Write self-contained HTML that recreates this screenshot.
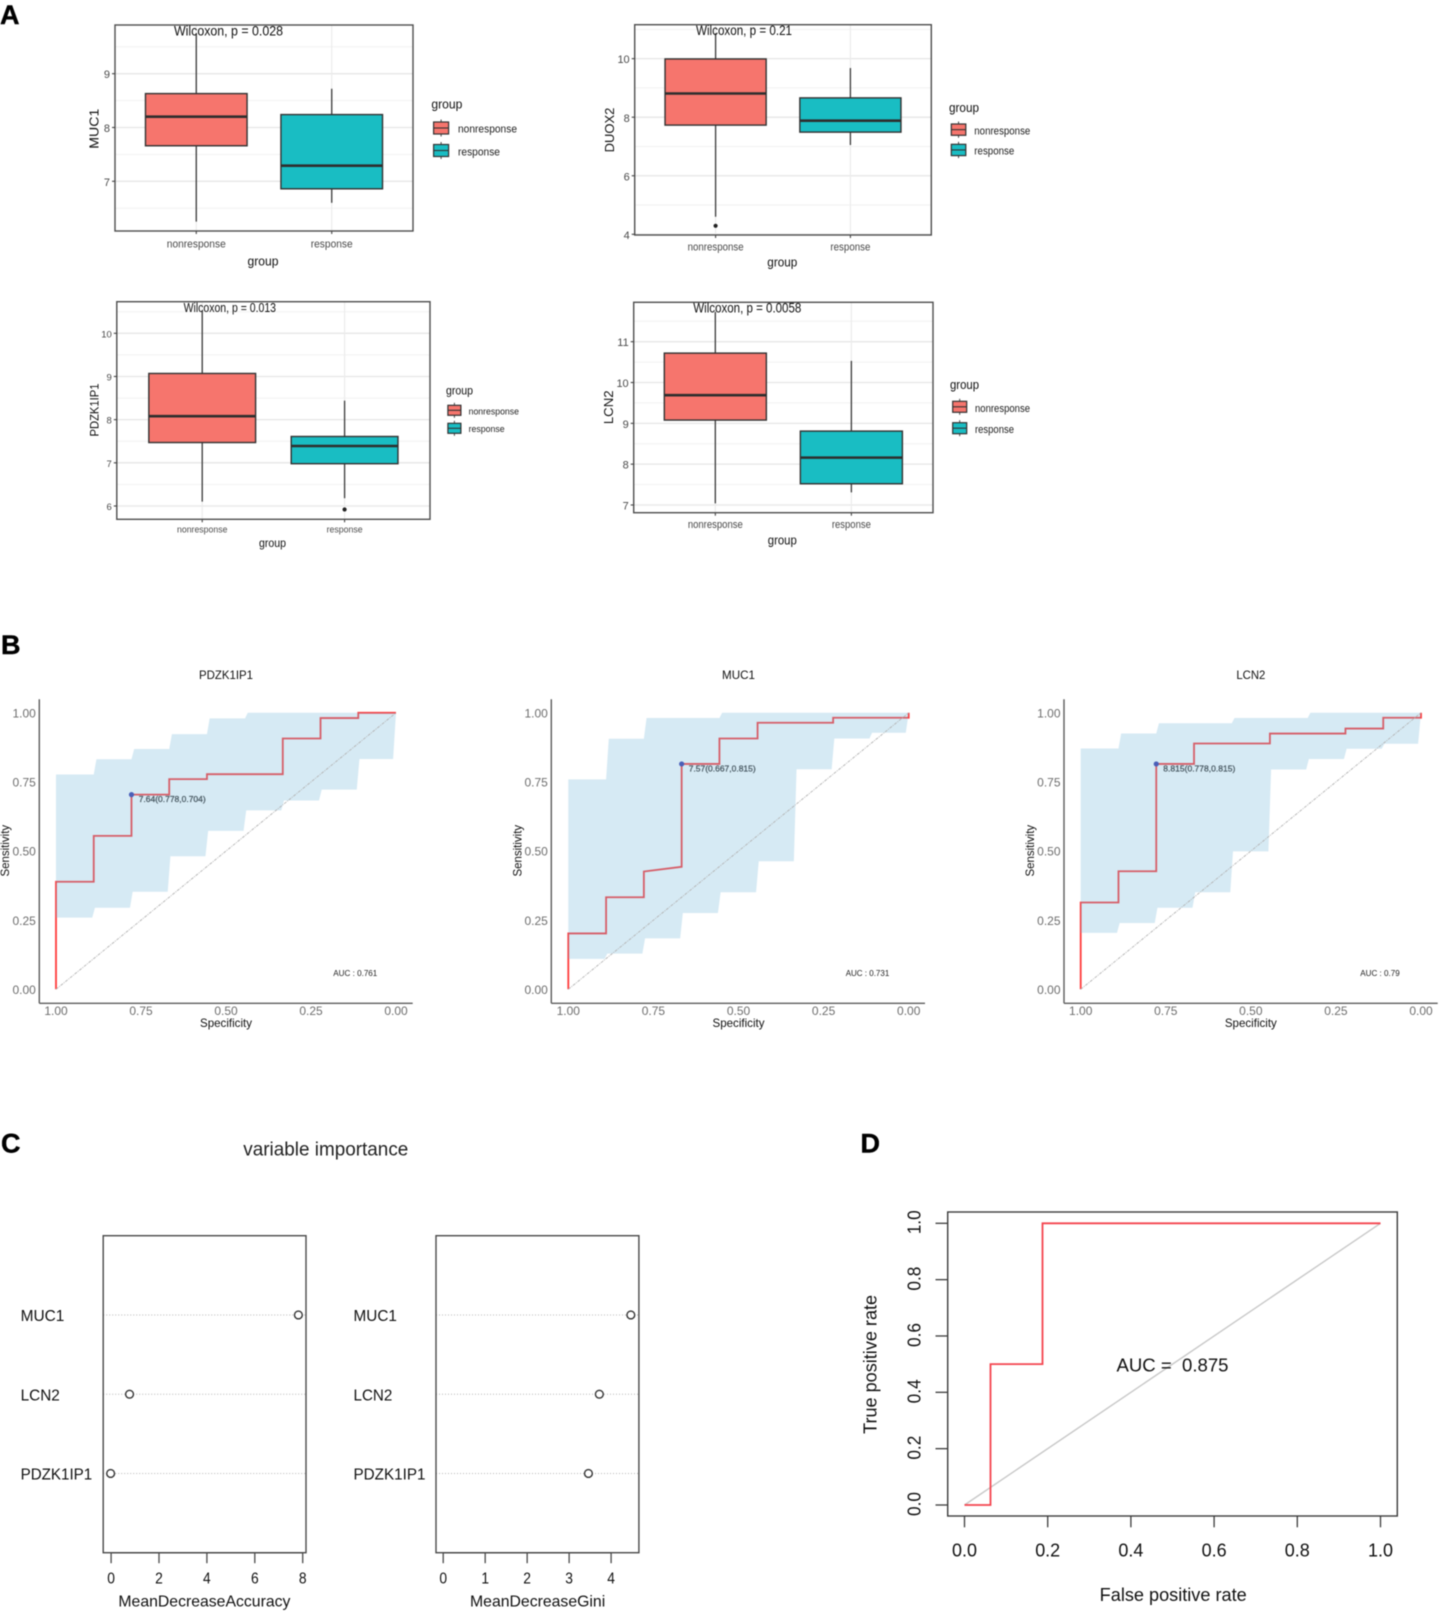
<!DOCTYPE html>
<html lang="en">
<head>
<meta charset="utf-8">
<title>Biomarker boxplots, ROC curves and variable importance</title>
<style>
html,body{margin:0;padding:0;background:#fff;}
body{width:1439px;height:1611px;overflow:hidden;}
svg{display:block;filter:blur(0.5px);font-family:"Liberation Sans",Arial,sans-serif;}
text{white-space:pre;}
</style>
</head>
<body>
<svg id="figure" width="1439" height="1611" viewBox="0 0 1439 1611" xmlns="http://www.w3.org/2000/svg">
  <rect x="0" y="0" width="1439" height="1611" fill="#fff"></rect>
  <text x="0" y="24" font-size="27" font-weight="bold" fill="#000" stroke="#000" stroke-width="0.4">A</text>
  <text x="1" y="654" font-size="27" font-weight="bold" fill="#000" stroke="#000" stroke-width="0.4">B</text>
  <text x="1" y="1152.5" font-size="27" font-weight="bold" fill="#000" stroke="#000" stroke-width="0.4">C</text>
  <text x="860.5" y="1152.5" font-size="27" font-weight="bold" fill="#000" stroke="#000" stroke-width="0.4">D</text>
  <text x="325.8" y="1155.5" font-size="19.5" text-anchor="middle" textLength="165" lengthAdjust="spacingAndGlyphs" fill="#222">variable importance</text>
  <g id="muc1-box"></g>
  <g id="duox2-box"></g>
  <g id="pdzk-box"></g>
  <g id="lcn2-box"></g>
  <g id="pdzk-roc"></g>
  <g id="muc1-roc"></g>
  <g id="lcn2-roc"></g>
  <g id="accuracy-dots"></g>
  <g id="gini-dots"></g>
  <g id="combined-roc"></g>
</svg>
<script>
/* ---------- panel A data ---------- */
const boxGroups = ['nonresponse', 'response'];

const muc1Ticks = [7, 8, 9];
const muc1Min = [6.25, 6.6];
const muc1Q1 = [7.66, 6.86];
const muc1Median = [8.2, 7.29];
const muc1Q3 = [8.63, 8.24];
const muc1Max = [9.75, 8.72];
const muc1Outliers = [[], []];

const duox2Ticks = [4, 6, 8, 10];
const duox2Min = [4.6, 7.05];
const duox2Q1 = [7.73, 7.49];
const duox2Median = [8.81, 7.88];
const duox2Q3 = [9.99, 8.66];
const duox2Max = [10.87, 9.68];
const duox2Outliers = [[4.29], []];

const pdzkTicks = [6, 7, 8, 9, 10];
const pdzkMin = [6.1, 6.18];
const pdzkQ1 = [7.47, 6.98];
const pdzkMedian = [8.08, 7.39];
const pdzkQ3 = [9.07, 7.61];
const pdzkMax = [10.52, 8.44];
const pdzkOutliers = [[], [5.92]];

const lcn2Ticks = [7, 8, 9, 10, 11];
const lcn2Min = [7.04, 7.31];
const lcn2Q1 = [9.08, 7.52];
const lcn2Median = [9.69, 8.16];
const lcn2Q3 = [10.72, 8.81];
const lcn2Max = [11.73, 10.53];
const lcn2Outliers = [[], []];

/* ---------- panel B data ---------- */
const rocTicks = [1, 0.75, 0.5, 0.25, 0];
const sensTicks = [0, 0.25, 0.5, 0.75, 1];
const ciSpecGrid = [1, 0.889, 0.778, 0.667, 0.556, 0.444, 0.333, 0.222, 0.111, 0];

const pdzkRocSpec = [1, 1, 0.889, 0.889, 0.778, 0.778, 0.667, 0.667, 0.556, 0.556, 0.333, 0.333, 0.222, 0.222, 0.111, 0.111, 0];
const pdzkRocSens = [0, 0.389, 0.389, 0.555, 0.555, 0.704, 0.704, 0.76, 0.76, 0.778, 0.778, 0.907, 0.907, 0.981, 0.981, 1, 1];
const pdzkCiUpper = [0.777, 0.832, 0.869, 0.923, 0.98, 1, 1, 1, 1];
const pdzkCiLower = [0.259, 0.295, 0.353, 0.481, 0.573, 0.647, 0.683, 0.722, 0.833];
const pdzkBest = [0.778, 0.704];

const muc1RocSpec = [1, 1, 0.889, 0.889, 0.778, 0.778, 0.667, 0.667, 0.556, 0.556, 0.444, 0.444, 0.222, 0.222, 0, 0];
const muc1RocSens = [0, 0.202, 0.202, 0.333, 0.333, 0.426, 0.443, 0.815, 0.815, 0.907, 0.907, 0.964, 0.964, 0.982, 0.982, 1];
const muc1CiUpper = [0.759, 0.906, 0.981, 0.981, 1, 1, 1, 1, 1];
const muc1CiLower = [0.11, 0.129, 0.184, 0.276, 0.351, 0.463, 0.796, 0.907, 0.928];
const muc1Best = [0.667, 0.815];

const lcn2RocSpec = [1, 1, 0.889, 0.889, 0.778, 0.778, 0.667, 0.667, 0.444, 0.444, 0.222, 0.222, 0.111, 0.111, 0, 0];
const lcn2RocSens = [0, 0.314, 0.314, 0.427, 0.427, 0.815, 0.815, 0.889, 0.889, 0.925, 0.925, 0.943, 0.943, 0.982, 0.982, 1];
const lcn2CiUpper = [0.871, 0.925, 0.962, 0.962, 0.981, 0.981, 1, 1, 1];
const lcn2CiLower = [0.204, 0.24, 0.295, 0.351, 0.499, 0.795, 0.833, 0.87, 0.888];
const lcn2Best = [0.778, 0.815];

/* ---------- panel C data ---------- */
const importanceGenes = ['MUC1', 'LCN2', 'PDZK1IP1'];
const accuracyValues = [7.82, 0.77, -0.02];
const accuracyTicks = [0, 2, 4, 6, 8];
const giniValues = [4.47, 3.72, 3.46];
const giniTicks = [0, 1, 2, 3, 4];

/* ---------- panel D data ---------- */
const combinedFpr = [0, 0.0625, 0.0625, 0.1875, 0.1875, 1];
const combinedTpr = [0, 0, 0.5, 0.5, 1, 1];
const combinedTicks = [0, 0.2, 0.4, 0.6, 0.8, 1];

/* ---------- helpers ---------- */
const NS = 'http://www.w3.org/2000/svg';
function make(tag, parent, attrs) {
  const el = document.createElementNS(NS, tag);
  for (const k in attrs) el.setAttribute(k, attrs[k]);
  parent.appendChild(el);
  return el;
}
function linear(d0, d1, r0, r1) {
  return function (v) { return r0 + (v - d0) / (d1 - d0) * (r1 - r0); };
}
function label(parent, str, x, yc, o, name) {
  const fs = o.fs;
  const rot = o.rot;
  const attrs = {
    'font-size': fs,
    fill: o.fill || '#222',
    'text-anchor': o.anchor || 'middle'
  };
  if (rot) {
    const bx = x + 0.35 * fs;
    attrs.x = bx;
    attrs.y = yc;
    attrs.transform = 'rotate(-90 ' + bx + ' ' + yc + ')';
  } else {
    attrs.x = x;
    attrs.y = yc + 0.35 * fs;
  }
  if (o.w) {
    attrs.textLength = o.w;
    attrs.lengthAdjust = 'spacingAndGlyphs';
  }
  if (o.stroke) {
    attrs.stroke = o.stroke;
    attrs['stroke-width'] = 0.25;
  }
  const el = make('text', parent, attrs);
  el.textContent = str;
  
  
  return el;
}
function slug(s) { return String(s).toLowerCase().replace(/[^a-z0-9]+/g, '-'); }

/* ---------- boxplot ---------- */
function drawBoxplot(id, gene, d, c) {
  const g = document.getElementById(id);
  const y = linear(d.yDomain[0], d.yDomain[1], c.bottom, c.top);
  const x = linear(0.4, boxGroups.length + 0.6, c.left, c.right);
  const unit = (c.right - c.left) / (boxGroups.length + 0.2 + 0.0);
  const step = d.ticks[1] - d.ticks[0];

  for (let v = d.ticks[0] - step / 2; v < d.yDomain[1]; v += step / 2) {
    if (v < d.yDomain[0]) continue;
    const isMajor = d.ticks.indexOf(v) >= 0;
    const grid = make('line', g, { x1: c.left, x2: c.right, y1: y(v), y2: y(v), stroke: isMajor ? '#e6e6e6' : '#f1f1f1', 'stroke-width': isMajor ? 1.3 : 1 });
    
    
  }
  boxGroups.forEach(function (name, i) {
    const vgrid = make('line', g, { x1: x(i + 1), x2: x(i + 1), y1: c.top, y2: c.bottom, stroke: '#ececec', 'stroke-width': 1.2 });
    
    
  });

  boxGroups.forEach(function (name, i) {
    const cx = x(i + 1);
    const half = 0.375 * unit;
    const fill = i === 0 ? '#F6756D' : '#19BDC3';
    const whisker = make('line', g, { x1: cx, x2: cx, y1: y(d.max[i]), y2: y(d.min[i]), stroke: '#3a3a3a', 'stroke-width': 1.3 });
    
    
    const box = make('rect', g, { x: cx - half, y: y(d.q3[i]), width: half * 2, height: y(d.q1[i]) - y(d.q3[i]), fill: fill, stroke: '#333', 'stroke-width': 1.4 });
    
    
    const med = make('line', g, { x1: cx - half, x2: cx + half, y1: y(d.median[i]), y2: y(d.median[i]), stroke: '#2e2e2e', 'stroke-width': 2.6 });
    
    
    d.outliers[i].forEach(function (o) {
      const dot = make('circle', g, { cx: cx, cy: y(o), r: 2.1, fill: '#222' });
      
      
    });
    const tick = make('line', g, { x1: cx, x2: cx, y1: c.bottom, y2: c.bottom + 3, stroke: '#444', 'stroke-width': 1.1 });
    
    
    label(g, name, cx, c.xTickY, { fs: c.tickFs, fill: '#4a4a4a', w: i === 0 ? c.w1 : c.w2 }, gene + '-x-tick-label');
  });

  const frame = make('rect', g, { x: c.left, y: c.top, width: c.right - c.left, height: c.bottom - c.top, fill: 'none', stroke: '#4e4e4e', 'stroke-width': 1.4 });
  
  

  d.ticks.forEach(function (v) {
    const tick = make('line', g, { x1: c.left - 3, x2: c.left, y1: y(v), y2: y(v), stroke: '#444', 'stroke-width': 1.1 });
    
    
    label(g, String(v), c.left - 5, y(v) + 0.7, { fs: c.tickFs, fill: '#4a4a4a', anchor: 'end' }, gene + '-y-tick-label');
  });

  label(g, d.pText, c.pCx, c.pY, { fs: c.pFs, fill: '#111', w: c.pW }, gene + '-wilcoxon-label');
  label(g, 'group', c.xTitleX, c.xTitleY, { fs: c.titleFs, fill: '#111', w: c.xTitleW }, gene + '-x-axis-title');
  label(g, d.yTitle, c.yTitleX, c.yTitleY, { fs: c.titleFs, fill: '#111', rot: true, w: c.yTitleW }, gene + '-y-axis-title');

  label(g, 'group', c.legX, c.legTitleY, { fs: c.titleFs, fill: '#111', anchor: 'start', w: c.xTitleW }, gene + '-legend-title');
  boxGroups.forEach(function (name, i) {
    const ky = c.legKeyY[i];
    const kc = ky + c.legKeyH / 2;
    const kx = c.legKeyX + c.legKeyW / 2;
    const fill = i === 0 ? '#F6756D' : '#19BDC3';
    const kw = make('line', g, { x1: kx, x2: kx, y1: ky - 2.5, y2: ky + c.legKeyH + 2.5, stroke: '#444', 'stroke-width': 1 });
    
    
    const key = make('rect', g, { x: c.legKeyX, y: ky, width: c.legKeyW, height: c.legKeyH, fill: fill, stroke: '#333', 'stroke-width': 1.2 });
    
    
    const km = make('line', g, { x1: c.legKeyX, x2: c.legKeyX + c.legKeyW, y1: kc, y2: kc, stroke: '#333', 'stroke-width': 1.1 });
    
    
    label(g, name, c.legTextX, c.legTextY[i], { fs: c.tickFs, fill: '#222', anchor: 'start', w: i === 0 ? c.w1 : c.w2 }, gene + '-legend-label-' + name);
  });
}

drawBoxplot('muc1-box', 'muc1', {
  yDomain: [6.076, 9.905], ticks: muc1Ticks, min: muc1Min, q1: muc1Q1, median: muc1Median, q3: muc1Q3, max: muc1Max, outliers: muc1Outliers,
  pText: 'Wilcoxon, p = 0.028', yTitle: 'MUC1'
}, {
  left: 115, right: 413, top: 25, bottom: 231, xTickY: 243.5, tickFs: 11, w1: 59, w2: 42,
  pCx: 228.5, pY: 30.5, pFs: 14, pW: 109, titleFs: 13, xTitleX: 263, xTitleY: 261, xTitleW: 31, yTitleX: 94, yTitleY: 128.7, yTitleW: 40,
  legX: 431.4, legTitleY: 104, legKeyX: 433.6, legKeyW: 15, legKeyH: 12, legKeyY: [122, 144.5], legTextX: 458, legTextY: [128.5, 151.5]
});
drawBoxplot('duox2-box', 'duox2', {
  yDomain: [3.976, 11.16], ticks: duox2Ticks, min: duox2Min, q1: duox2Q1, median: duox2Median, q3: duox2Q3, max: duox2Max, outliers: duox2Outliers,
  pText: 'Wilcoxon, p = 0.21', yTitle: 'DUOX2'
}, {
  left: 634.7, right: 931.3, top: 24.7, bottom: 235, xTickY: 246.5, tickFs: 11, w1: 56, w2: 40,
  pCx: 744, pY: 30, pFs: 14, pW: 96, titleFs: 13, xTitleX: 782.3, xTitleY: 262, xTitleW: 30, yTitleX: 609.3, yTitleY: 130, yTitleW: 44.7,
  legX: 949, legTitleY: 107.5, legKeyX: 951.3, legKeyW: 14.5, legKeyH: 11.3, legKeyY: [124, 144.3], legTextX: 974.3, legTextY: [130.7, 150.7]
});
drawBoxplot('pdzk-box', 'pdzk1ip1', {
  yDomain: [5.692, 10.732], ticks: pdzkTicks, min: pdzkMin, q1: pdzkQ1, median: pdzkMedian, q3: pdzkQ3, max: pdzkMax, outliers: pdzkOutliers,
  pText: 'Wilcoxon, p = 0.013', yTitle: 'PDZK1IP1'
}, {
  left: 116.8, right: 430, top: 301.7, bottom: 519.3, xTickY: 529.3, tickFs: 9.5, w1: 50.4, w2: 36,
  pCx: 229.8, pY: 307.5, pFs: 12.5, pW: 92.4, titleFs: 11.5, xTitleX: 272.5, xTitleY: 543, xTitleW: 27, yTitleX: 94.5, yTitleY: 410, yTitleW: 53,
  legX: 446, legTitleY: 390.5, legKeyX: 447.9, legKeyW: 13, legKeyH: 10, legKeyY: [405.3, 423.3], legTextX: 468.6, legTextY: [411, 428.7]
});
drawBoxplot('lcn2-box', 'lcn2', {
  yDomain: [6.811, 11.965], ticks: lcn2Ticks, min: lcn2Min, q1: lcn2Q1, median: lcn2Median, q3: lcn2Q3, max: lcn2Max, outliers: lcn2Outliers,
  pText: 'Wilcoxon, p = 0.0058', yTitle: 'LCN2'
}, {
  left: 633.7, right: 933, top: 302.3, bottom: 512.7, xTickY: 524.3, tickFs: 11, w1: 55, w2: 39,
  pCx: 747.3, pY: 307.5, pFs: 14, pW: 108, titleFs: 13, xTitleX: 782.3, xTitleY: 540, xTitleW: 29, yTitleX: 608.6, yTitleY: 407.3, yTitleW: 33.7,
  legX: 950, legTitleY: 384.5, legKeyX: 952.7, legKeyW: 14, legKeyH: 11, legKeyY: [401.3, 422.7], legTextX: 975, legTextY: [408, 429]
});

/* ---------- ROC with confidence band ---------- */
function drawRoc(id, gene, d, c) {
  const g = document.getElementById(id);
  const top1 = 712.8, bot0 = 989.3, axisTop = 699.3, axisBottom = 1003.3;
  const x = linear(1, 0, c.x1, c.x0);
  const y = linear(0, 1, bot0, top1);
  const gap = 2.7;

  label(g, d.title, (c.x1 + c.x0) / 2, 675, { fs: 11.5, fill: '#111', w: c.titleW }, gene + '-roc-title');

  const curvePts = d.spec.map(function (s, i) { return x(s) + ',' + y(d.sens[i]); }).join(' ');
  const curve = make('polyline', g, { points: curvePts, fill: 'none', stroke: '#ff3b3b', 'stroke-width': 1.8 });
  
  

  const upperPts = [];
  const lowerPts = [];
  d.upper.forEach(function (v, i) {
    upperPts.push((x(ciSpecGrid[i]) + (i ? gap : 0)) + ',' + y(v));
    upperPts.push(x(ciSpecGrid[i + 1]) + ',' + y(v));
  });
  d.lower.forEach(function (v, i) {
    lowerPts.push((x(ciSpecGrid[i]) + (i ? 1.2 : 0)) + ',' + y(v));
    lowerPts.push((x(ciSpecGrid[i + 1]) - (i === d.lower.length - 1 ? 2.9 : 1.5)) + ',' + y(v));
  });
  lowerPts.reverse();
  const band = make('polygon', g, { points: upperPts.concat(lowerPts).join(' '), fill: 'rgba(115,182,217,0.29)' });
  
  

  const diag = make('line', g, { x1: x(1), y1: y(0), x2: x(0), y2: y(1), stroke: '#b4b4b4', 'stroke-width': 0.9, 'stroke-dasharray': '3 1 1 1' });
  
  

  const best = make('circle', g, { cx: x(d.best[0]), cy: y(d.best[1]), r: 2.6, fill: '#4a5fb8' });
  
  
  label(g, d.bestText, c.bestX, y(d.best[1]) + 4.4, { fs: 8.5, fill: '#46565f', anchor: 'start', w: c.bestW, stroke: '#46565f' }, gene + '-optimal-threshold-label');
  label(g, d.aucText, c.aucX, 973, { fs: 8.5, fill: '#222', anchor: 'start', w: c.aucW }, gene + '-auc-label');

  const yAxis = make('line', g, { x1: c.axisX, x2: c.axisX, y1: axisTop, y2: axisBottom, stroke: '#5c5c5c', 'stroke-width': 1.4 });
  
  
  const xAxis = make('line', g, { x1: c.axisX, x2: c.axisRight, y1: axisBottom, y2: axisBottom, stroke: '#5c5c5c', 'stroke-width': 1.4 });
  
  

  rocTicks.forEach(function (v) {
    label(g, v.toFixed(2), x(v), 1011, { fs: 12, fill: '#6e6e6e' }, gene + '-roc-x-tick-label');
  });
  sensTicks.forEach(function (v) {
    label(g, v.toFixed(2), c.axisX - 3.5, y(v) + 0.4, { fs: 12, fill: '#6e6e6e', anchor: 'end' }, gene + '-roc-y-tick-label');
  });
  label(g, 'Specificity', (c.x1 + c.x0) / 2, 1023, { fs: 12, fill: '#111', w: 52 }, gene + '-roc-x-axis-title');
  label(g, 'Sensitivity', c.yTitleX, 850.7, { fs: 12, fill: '#111', rot: true, w: 51.7 }, gene + '-roc-y-axis-title');
}

drawRoc('pdzk-roc', 'pdzk1ip1', {
  title: 'PDZK1IP1', spec: pdzkRocSpec, sens: pdzkRocSens, upper: pdzkCiUpper, lower: pdzkCiLower, best: pdzkBest,
  bestText: '7.64(0.778,0.704)', aucText: 'AUC : 0.761'
}, { x1: 56, x0: 396, axisX: 39.3, axisRight: 412.7, titleW: 54, bestX: 138.7, bestW: 67, aucX: 333.3, aucW: 44, yTitleX: 5 });

drawRoc('muc1-roc', 'muc1', {
  title: 'MUC1', spec: muc1RocSpec, sens: muc1RocSens, upper: muc1CiUpper, lower: muc1CiLower, best: muc1Best,
  bestText: '7.57(0.667,0.815)', aucText: 'AUC : 0.731'
}, { x1: 568.3, x0: 908.7, axisX: 551.3, axisRight: 925, titleW: 33, bestX: 688.7, bestW: 67, aucX: 845.7, aucW: 43.6, yTitleX: 517.3 });

drawRoc('lcn2-roc', 'lcn2', {
  title: 'LCN2', spec: lcn2RocSpec, sens: lcn2RocSens, upper: lcn2CiUpper, lower: lcn2CiLower, best: lcn2Best,
  bestText: '8.815(0.778,0.815)', aucText: 'AUC : 0.79'
}, { x1: 1080.7, x0: 1421, axisX: 1064, axisRight: 1437.7, titleW: 29, bestX: 1163.3, bestW: 72, aucX: 1360.3, aucW: 39.4, yTitleX: 1030 });

/* ---------- importance dot charts ---------- */
function drawDots(id, key, values, ticks, c) {
  const g = document.getElementById(id);
  const top = 1235.7, bottom = 1552.7;
  const x = linear(ticks[0], ticks[ticks.length - 1], c.tick0, c.tickN);
  const y = linear(0, importanceGenes.length + 1, top, bottom);

  importanceGenes.forEach(function (gene, i) {
    const yy = y(i + 1);
    const guide = make('line', g, { x1: c.left, x2: c.right, y1: yy, y2: yy, stroke: '#b5b5b5', 'stroke-width': 1, 'stroke-dasharray': '1 2' });
    
    
    const dot = make('circle', g, { cx: x(values[i]), cy: yy, r: 3.9, fill: '#fff', stroke: '#333', 'stroke-width': 1.4 });
    
    
    label(g, gene, c.labelX, yy + 0.6, { fs: 16, fill: '#111', anchor: 'start', w: c.labelW[i] }, key + '-row-label-' + slug(gene));
  });

  const frame = make('rect', g, { x: c.left, y: top, width: c.right - c.left, height: bottom - top, fill: 'none', stroke: '#4a4a4a', 'stroke-width': 1.4 });
  
  
  const axisLine = make('line', g, { x1: x(ticks[0]), x2: x(ticks[ticks.length - 1]), y1: bottom, y2: bottom, stroke: '#4a4a4a', 'stroke-width': 1.5 });
  
  
  ticks.forEach(function (v) {
    const tick = make('line', g, { x1: x(v), x2: x(v), y1: bottom, y2: bottom + 10.5, stroke: '#4a4a4a', 'stroke-width': 1.3 });
    
    
    label(g, String(v), x(v), 1578, { fs: 15.5, fill: '#111', w: 7.7 }, key + '-x-tick-label');
  });
  label(g, c.title, c.titleX, 1600.8, { fs: 16, fill: '#111', w: c.titleW }, key + '-x-axis-title');
}

drawDots('accuracy-dots', 'accuracy', accuracyValues, accuracyTicks, {
  left: 103.2, right: 306, tick0: 111.1, tickN: 302.7, labelX: 20.6, labelW: [43.8, 39.2, 71.6],
  title: 'MeanDecreaseAccuracy', titleX: 204.4, titleW: 172
});
drawDots('gini-dots', 'gini', giniValues, giniTicks, {
  left: 436, right: 638.9, tick0: 443.2, tickN: 611.1, labelX: 353.5, labelW: [43.4, 38.8, 72],
  title: 'MeanDecreaseGini', titleX: 537.6, titleW: 135.2
});

/* ---------- combined ROC ---------- */
(function drawCombined() {
  const g = document.getElementById('combined-roc');
  const left = 947.7, right = 1397.3, top = 1212, bottom = 1516;
  const x = linear(0, 1, 964.5, 1380.5);
  const y = linear(0, 1, 1505, 1223.3);

  const diag = make('line', g, { x1: x(0), y1: y(0), x2: x(1), y2: y(1), stroke: '#c8c8c8', 'stroke-width': 1.4 });
  
  

  const pts = combinedFpr.map(function (f, i) { return x(f) + ',' + y(combinedTpr[i]); }).join(' ');
  const curve = make('polyline', g, { points: pts, fill: 'none', stroke: '#f4454f', 'stroke-width': 1.8 });
  
  

  const frame = make('rect', g, { x: left, y: top, width: right - left, height: bottom - top, fill: 'none', stroke: '#3c3c3c', 'stroke-width': 1.4 });
  
  

  combinedTicks.forEach(function (v) {
    const xt = make('line', g, { x1: x(v), x2: x(v), y1: bottom, y2: 1527.3, stroke: '#3c3c3c', 'stroke-width': 1.3 });
    
    
    label(g, v.toFixed(1), x(v), 1550, { fs: 18, fill: '#111', w: 25 }, 'combined-x-tick-label');
    const yt = make('line', g, { x1: 935.5, x2: left, y1: y(v), y2: y(v), stroke: '#3c3c3c', 'stroke-width': 1.3 });
    
    
    label(g, v.toFixed(1), 914, y(v) - 1, { fs: 18, fill: '#111', rot: true, w: 24 }, 'combined-y-tick-label');
  });

  label(g, 'AUC =  0.875', 1172.5, 1365, { fs: 18, fill: '#111', w: 112 }, 'combined-auc-label');
  label(g, 'False positive rate', 1173.2, 1594.5, { fs: 18, fill: '#111', w: 147 }, 'combined-x-axis-title');
  label(g, 'True positive rate', 870, 1364.4, { fs: 18, fill: '#111', rot: true, w: 139 }, 'combined-y-axis-title');
})();
</script>
</body>
</html>
